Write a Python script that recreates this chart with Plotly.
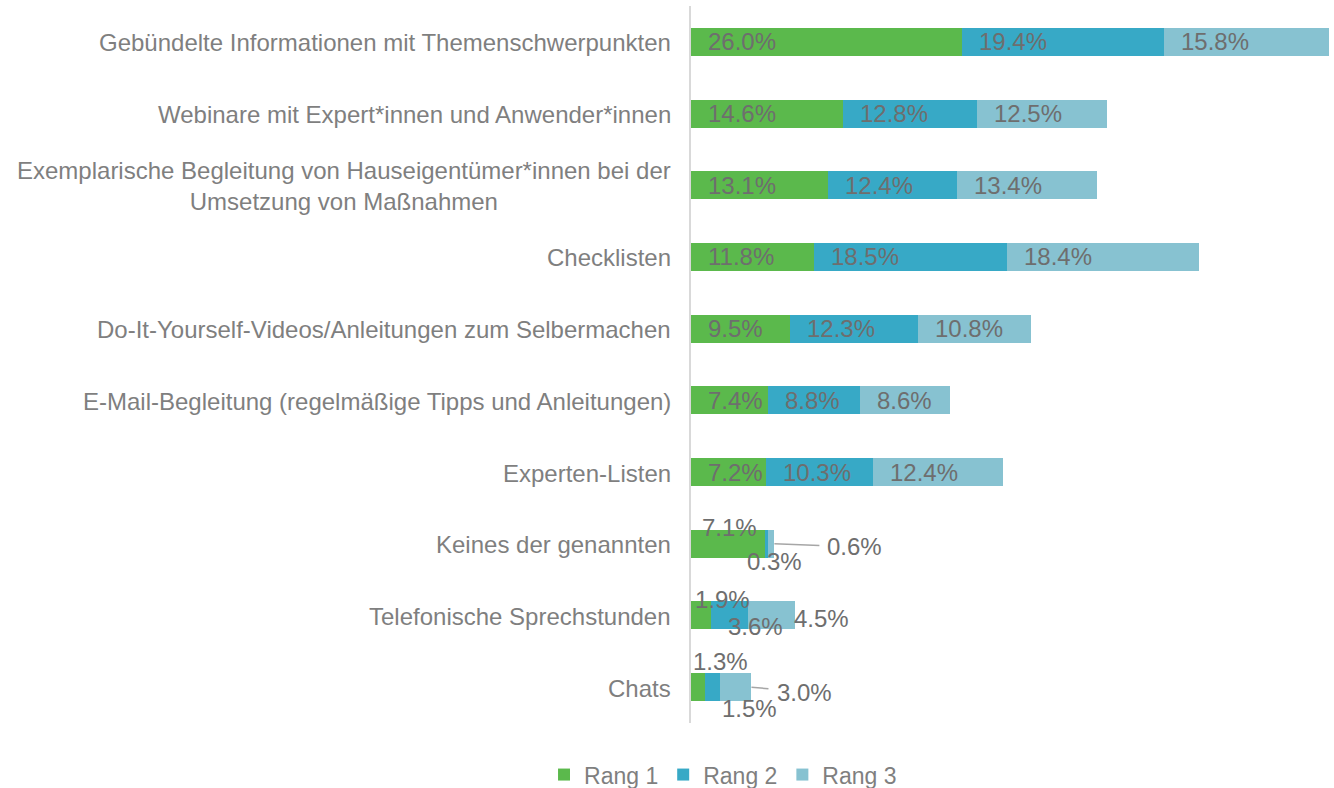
import plotly.graph_objects as go

categories = [
    "Gebündelte Informationen mit Themenschwerpunkten",
    "Webinare mit Expert*innen und Anwender*innen",
    "Exemplarische Begleitung von Hauseigentümer*innen bei der<br>Umsetzung von Maßnahmen",
    "Checklisten",
    "Do-It-Yourself-Videos/Anleitungen zum Selbermachen",
    "E-Mail-Begleitung (regelmäßige Tipps und Anleitungen)",
    "Experten-Listen",
    "Keines der genannten",
    "Telefonische Sprechstunden",
    "Chats",
]
series_names = ["Rang 1", "Rang 2", "Rang 3"]
rang1 = [26.0, 14.6, 13.1, 11.8, 9.5, 7.4, 7.2, 7.1, 1.9, 1.3]
rang2 = [19.4, 12.8, 12.4, 18.5, 12.3, 8.8, 10.3, 0.3, 3.6, 1.5]
rang3 = [15.8, 12.5, 13.4, 18.4, 10.8, 8.6, 12.4, 0.6, 4.5, 3.0]

colors = ["#5BB94C", "#37A9C6", "#87C2D1"]
LABEL_COLOR = "#6E6E6E"
CAT_COLOR = "#7F7F7F"
FONT = "Liberation Sans, Arial, sans-serif"
VAL_SIZE = 24
CAT_SIZE = 24

# special placement of small labels: (category index, series index) -> style
# ref: which segment edge the offset is relative to; dx/dy in px (dy up positive)
special = {
    (7, 0): dict(ref="start", dx=11, dy=16),
    (7, 1): dict(ref="start", dx=-18, dy=-18),
    (7, 2): dict(ref="leader", ax=80, ay=3, pad=7),
    (8, 0): dict(ref="start", dx=4, dy=16),
    (8, 1): dict(ref="start", dx=17, dy=-11),
    (8, 2): dict(ref="end", dx=-1, dy=-3),
    (9, 0): dict(ref="start", dx=2, dy=26),
    (9, 1): dict(ref="start", dx=17, dy=-21),
    (9, 2): dict(ref="leader", ax=53, ay=5, pad=8),
}

all_series = [rang1, rang2, rang3]

fig = go.Figure()
for name, vals, col in zip(series_names, all_series, colors):
    fig.add_trace(go.Bar(
        y=categories, x=vals, name=name, orientation="h",
        marker=dict(color=col, line=dict(width=0)),
        width=0.39, hoverinfo="x+name",
    ))

annotations = []
for i, cat in enumerate(categories):
    start = 0.0
    for s, vals in enumerate(all_series):
        v = vals[i]
        end = start + v
        txt = f"{v:.1f}%"
        sp = special.get((i, s))
        if sp is None:
            annotations.append(dict(x=start, y=cat, text=txt, showarrow=False,
                                    xanchor="left", yanchor="middle", xshift=15,
                                    font=dict(size=VAL_SIZE, color=LABEL_COLOR, family=FONT)))
        elif sp["ref"] == "leader":
            annotations.append(dict(x=end, y=cat, text=txt, showarrow=True,
                                    arrowhead=0, arrowwidth=1.5, arrowcolor="#A6A6A6",
                                    ax=sp["ax"], ay=sp["ay"], borderpad=sp["pad"],
                                    standoff=0, startstandoff=0,
                                    font=dict(size=VAL_SIZE, color=LABEL_COLOR, family=FONT)))
        else:
            base = start if sp["ref"] == "start" else end
            annotations.append(dict(x=base, y=cat, text=txt, showarrow=False,
                                    xanchor="left", yanchor="middle",
                                    xshift=sp["dx"] - 2, yshift=sp["dy"],
                                    font=dict(size=VAL_SIZE, color=LABEL_COLOR, family=FONT)))
        start = end

for cat in categories:
    annotations.append(dict(x=0, xref="paper", y=cat, yref="y", text=cat,
                            showarrow=False, xanchor="right", yanchor="middle",
                            xshift=-18, yshift=-1, align="center",
                            font=dict(size=CAT_SIZE, color=CAT_COLOR, family=FONT)))

total_max = max(a + b + c for a, b, c in zip(rang1, rang2, rang3))

fig.update_layout(
    barmode="stack",
    width=1334, height=788,
    margin=dict(l=691, r=5, t=6, b=65, autoexpand=False),
    paper_bgcolor="white", plot_bgcolor="white",
    font=dict(family=FONT, color=CAT_COLOR),
    xaxis=dict(range=[0, total_max], showgrid=False, zeroline=False,
               showticklabels=False, ticks="", showline=False, fixedrange=True,
               automargin=False),
    yaxis=dict(categoryorder="array", categoryarray=categories,
               range=[len(categories) - 0.5, -0.5], showticklabels=False, ticks="",
               showline=True, linecolor="#D9D9D9", linewidth=2,
               showgrid=False, zeroline=False, fixedrange=True, automargin=False),
    showlegend=True,
    legend=dict(orientation="h", xref="container", yref="container",
                x=0.542, xanchor="center", y=0.017, yanchor="middle",
                font=dict(size=23, color=CAT_COLOR, family=FONT),
                traceorder="normal", itemwidth=30),
    annotations=annotations,
    bargap=0.61,
)

fig.write_html("out.html", config={"displayModeBar": False},
               post_script="document.body.style.margin='0';document.body.style.overflow='hidden';")
